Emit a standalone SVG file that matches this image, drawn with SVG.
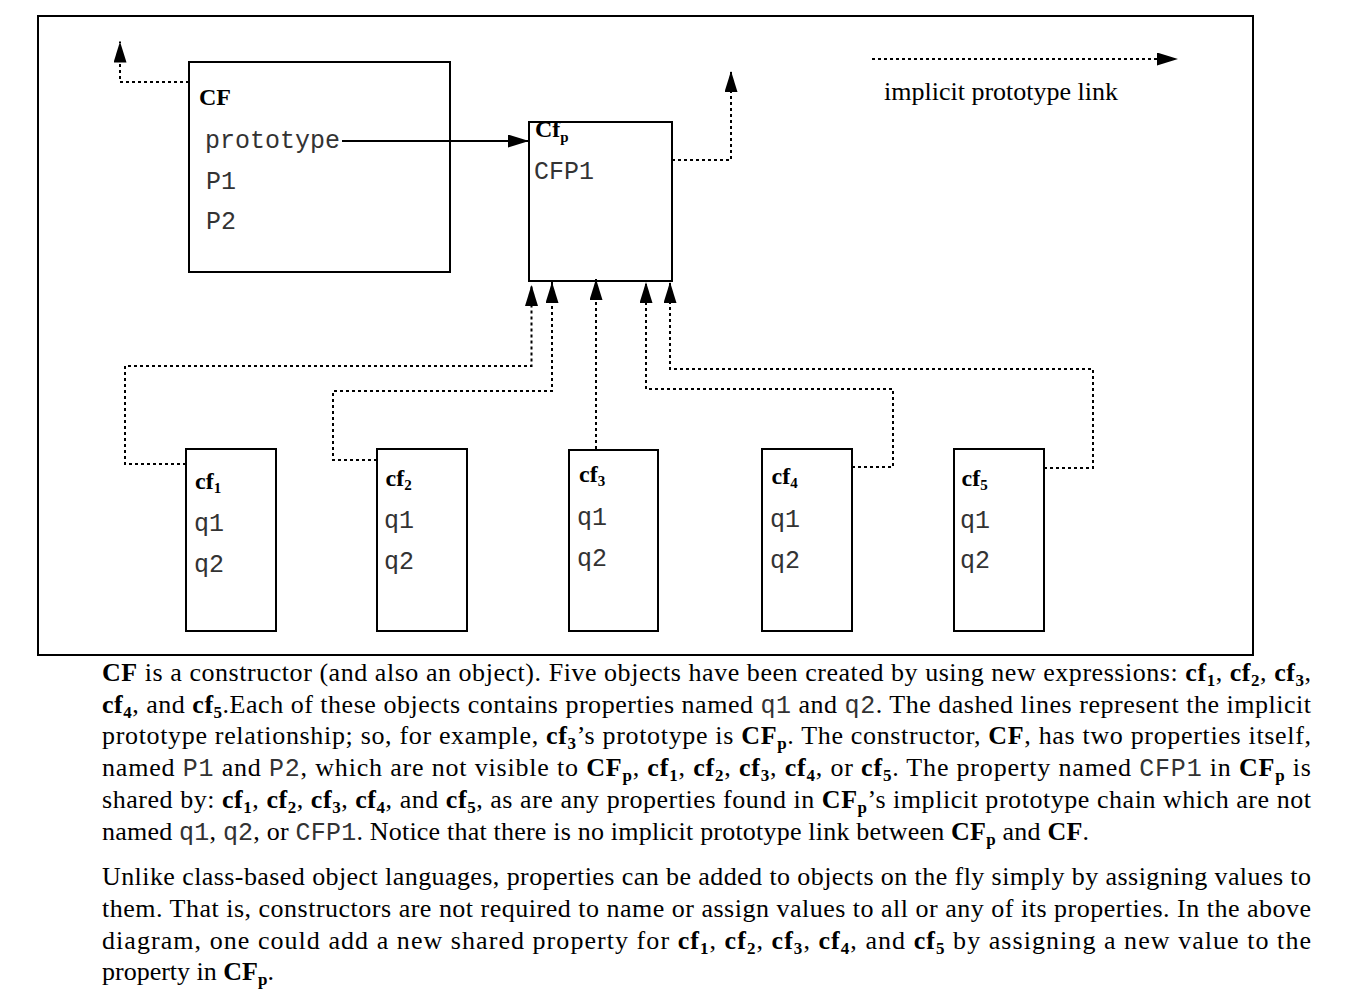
<svg xmlns="http://www.w3.org/2000/svg" width="1368" height="1002" viewBox="0 0 1368 1002">
<style>
.box{fill:#fff;stroke:#000;stroke-width:2}
.dot{fill:none;stroke:#000;stroke-width:2;stroke-dasharray:3 3}
.solid{fill:none;stroke:#000;stroke-width:2}
.lbl{font-family:"Liberation Serif","Times New Roman",serif;font-weight:bold;font-size:24px;fill:#000}
.mono{font-family:"Liberation Mono","Courier New",monospace;font-size:25px;fill:#333}
.para{font-family:"Liberation Serif","Times New Roman",serif;font-size:26px;fill:#000}
.pm{font-family:"Liberation Mono","Courier New",monospace;font-size:25px;fill:#333}
.b{font-weight:bold}
.s{font-size:17px}
.ls{font-size:15px}
</style>
<defs>
<marker id="ah" viewBox="0 0 21 13" refX="21" refY="6.5" markerWidth="21" markerHeight="13" markerUnits="userSpaceOnUse" orient="auto"><path d="M0,0 L21,6.5 L0,13 z" fill="#000"/></marker>
</defs>
<rect width="1368" height="1002" fill="#fff"/>
<rect id="frame" x="38" y="16" width="1215" height="639" fill="none" stroke="#000" stroke-width="2"/>

<g id="CF">
<rect class="box" x="189" y="62" width="261" height="210"/>
<text class="lbl" x="199" y="105" font-size="25">CF</text>
<text class="mono" x="205" y="148">prototype</text>
<text class="mono" x="206" y="189">P1</text>
<text class="mono" x="206" y="229">P2</text>
</g>

<g id="CFp">
<rect class="box" x="529" y="122" width="143" height="159"/>
<text class="mono" x="534" y="179">CFP1</text>
</g>

<g id="cf1">
<rect class="box" x="186" y="449" width="90" height="182"/>
<text class="lbl" x="195" y="489">cf<tspan class="ls" dy="4">1</tspan></text>
<text class="mono" x="194" y="531">q1</text>
<text class="mono" x="194" y="572">q2</text>
</g>
<g id="cf2">
<rect class="box" x="377" y="449" width="90" height="182"/>
<text class="lbl" x="385.5" y="486">cf<tspan class="ls" dy="4">2</tspan></text>
<text class="mono" x="384" y="528">q1</text>
<text class="mono" x="384" y="569">q2</text>
</g>
<g id="cf3">
<rect class="box" x="569" y="450" width="89" height="181"/>
<text class="lbl" x="579" y="482">cf<tspan class="ls" dy="4">3</tspan></text>
<text class="mono" x="577" y="525">q1</text>
<text class="mono" x="577" y="566">q2</text>
</g>
<g id="cf4">
<rect class="box" x="762" y="449" width="90" height="182"/>
<text class="lbl" x="771.5" y="484">cf<tspan class="ls" dy="4">4</tspan></text>
<text class="mono" x="770" y="527">q1</text>
<text class="mono" x="770" y="568">q2</text>
</g>
<g id="cf5">
<rect class="box" x="954" y="449" width="90" height="182"/>
<text class="lbl" x="961.5" y="486">cf<tspan class="ls" dy="4">5</tspan></text>
<text class="mono" x="960" y="528">q1</text>
<text class="mono" x="960" y="568">q2</text>
</g>

<g id="connectors">
<path class="dot" d="M189,82 H120 V41.5" marker-end="url(#ah)"/>
<path class="solid" d="M342,141 H529" marker-end="url(#ah)"/>
<path class="dot" d="M672,160 H731 V71" marker-end="url(#ah)"/>
<path class="dot" d="M186,464 H125 V366 H531.5 V285" marker-end="url(#ah)"/>
<path class="dot" d="M377,460 H333 V391 H552 V282" marker-end="url(#ah)"/>
<path class="dot" d="M596,449 V279" marker-end="url(#ah)"/>
<path class="dot" d="M852,467 H893 V389 H646 V282" marker-end="url(#ah)"/>
<path class="dot" d="M1044,468 H1093 V369 H670 V282" marker-end="url(#ah)"/>
</g>

<g id="CFp-label">
<text class="lbl" x="535" y="137">Cf<tspan class="ls" dy="5">p</tspan></text>
</g>

<g id="legend">
<path class="dot" d="M872,59 H1178" marker-end="url(#ah)"/>
<text x="884" y="100" font-family="Liberation Serif, Times New Roman, serif" font-size="26">implicit prototype link</text>
</g>

<g id="caption" class="para">
<text x="102" y="681" textLength="1209" lengthAdjust="spacing"><tspan class="b">CF</tspan> is a constructor (and also an object). Five objects have been created by using new expressions: <tspan class="b">cf<tspan class="s" dy="5">1</tspan></tspan><tspan dy="-5">, </tspan><tspan class="b">cf<tspan class="s" dy="5">2</tspan></tspan><tspan dy="-5">, </tspan><tspan class="b">cf<tspan class="s" dy="5">3</tspan></tspan><tspan dy="-5">,</tspan></text>
<text x="102" y="712.5" textLength="1209" lengthAdjust="spacing"><tspan class="b">cf<tspan class="s" dy="5">4</tspan></tspan><tspan dy="-5">, and </tspan><tspan class="b">cf<tspan class="s" dy="5">5</tspan></tspan><tspan dy="-5">.Each of these objects contains properties named </tspan><tspan class="pm">q1</tspan> and <tspan class="pm">q2</tspan>. The dashed lines represent the implicit</text>
<text x="102" y="744" textLength="1209" lengthAdjust="spacing">prototype relationship; so, for example, <tspan class="b">cf<tspan class="s" dy="5">3</tspan></tspan><tspan dy="-5">’s prototype is </tspan><tspan class="b">CF<tspan class="s" dy="5">p</tspan></tspan><tspan dy="-5">. The constructor, </tspan><tspan class="b">CF</tspan>, has two properties itself,</text>
<text x="102" y="776" textLength="1209" lengthAdjust="spacing">named <tspan class="pm">P1</tspan> and <tspan class="pm">P2</tspan>, which are not visible to <tspan class="b">CF<tspan class="s" dy="5">p</tspan></tspan><tspan dy="-5">, </tspan><tspan class="b">cf<tspan class="s" dy="5">1</tspan></tspan><tspan dy="-5">, </tspan><tspan class="b">cf<tspan class="s" dy="5">2</tspan></tspan><tspan dy="-5">, </tspan><tspan class="b">cf<tspan class="s" dy="5">3</tspan></tspan><tspan dy="-5">, </tspan><tspan class="b">cf<tspan class="s" dy="5">4</tspan></tspan><tspan dy="-5">, or </tspan><tspan class="b">cf<tspan class="s" dy="5">5</tspan></tspan><tspan dy="-5">. The property named </tspan><tspan class="pm">CFP1</tspan> in <tspan class="b">CF<tspan class="s" dy="5">p</tspan></tspan><tspan dy="-5"> is</tspan></text>
<text x="102" y="807.5" textLength="1209" lengthAdjust="spacing">shared by: <tspan class="b">cf<tspan class="s" dy="5">1</tspan></tspan><tspan dy="-5">, </tspan><tspan class="b">cf<tspan class="s" dy="5">2</tspan></tspan><tspan dy="-5">, </tspan><tspan class="b">cf<tspan class="s" dy="5">3</tspan></tspan><tspan dy="-5">, </tspan><tspan class="b">cf<tspan class="s" dy="5">4</tspan></tspan><tspan dy="-5">, and </tspan><tspan class="b">cf<tspan class="s" dy="5">5</tspan></tspan><tspan dy="-5">, as are any properties found in </tspan><tspan class="b">CF<tspan class="s" dy="5">p</tspan></tspan><tspan dy="-5">’s implicit prototype chain which are not</tspan></text>
<text x="102" y="839.5" textLength="987" lengthAdjust="spacing">named <tspan class="pm">q1</tspan>, <tspan class="pm">q2</tspan>, or <tspan class="pm">CFP1</tspan>. Notice that there is no implicit prototype link between <tspan class="b">CF<tspan class="s" dy="5">p</tspan></tspan><tspan dy="-5"> and </tspan><tspan class="b">CF</tspan>.</text>
<text x="102" y="885" textLength="1209" lengthAdjust="spacing">Unlike class-based object languages, properties can be added to objects on the fly simply by assigning values to</text>
<text x="102" y="917" textLength="1209" lengthAdjust="spacing">them. That is, constructors are not required to name or assign values to all or any of its properties. In the above</text>
<text x="102" y="948.5" textLength="1209" lengthAdjust="spacing">diagram, one could add a new shared property for <tspan class="b">cf<tspan class="s" dy="5">1</tspan></tspan><tspan dy="-5">, </tspan><tspan class="b">cf<tspan class="s" dy="5">2</tspan></tspan><tspan dy="-5">, </tspan><tspan class="b">cf<tspan class="s" dy="5">3</tspan></tspan><tspan dy="-5">, </tspan><tspan class="b">cf<tspan class="s" dy="5">4</tspan></tspan><tspan dy="-5">, and </tspan><tspan class="b">cf<tspan class="s" dy="5">5</tspan></tspan><tspan dy="-5"> by assigning a new value to the</tspan></text>
<text x="102" y="980">property in <tspan class="b">CF<tspan class="s" dy="5">p</tspan></tspan><tspan dy="-5">.</tspan></text>
</g>
</svg>
